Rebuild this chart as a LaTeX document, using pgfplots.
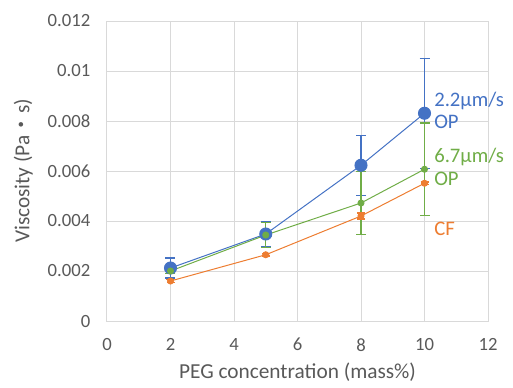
\documentclass[border=0pt]{standalone}
\usepackage{fontspec}
\setmainfont{Carlito}
\newfontfamily\cjk{Noto Sans CJK JP}
\usepackage{pgfplots}
\pgfplotsset{compat=1.18}
\definecolor{cblue}{HTML}{4472C4}
\definecolor{corange}{HTML}{ED7D31}
\definecolor{cgreen}{HTML}{70AD47}
\definecolor{tgray}{HTML}{595959}
\definecolor{ggray}{HTML}{D9D9D9}
\begin{document}
\begin{tikzpicture}
\begin{axis}[
  scale only axis,
  width=285.75pt, height=225pt,
  xmin=0, xmax=12, ymin=0, ymax=0.012,
  xtick={0,2,4,6,8,10,12},
  ytick={0,0.002,0.004,0.006,0.008,0.01,0.012},
  yticklabels={0,0.002,0.004,0.006,0.008,0.01,0.012},
  scaled y ticks=false,
  /pgf/number format/assume math mode=true,
  major tick length=0pt,
  grid=major,
  major grid style={draw=ggray, line width=0.75pt},
  axis line style={draw=ggray, line width=0.75pt},
  tick label style={font=\fontsize{14}{16}\selectfont, text=tgray},
  yticklabel style={xshift=-9pt},
  xticklabel style={yshift=-9.5pt},
  label style={font=\fontsize{16}{18}\selectfont, text=tgray},
  xlabel={PEG concentration (mass\%)},
  ylabel={Viscosity (Pa{\cjk ・}s)},
  xlabel style={at={(rel axis cs:0.5,0)}, anchor=north, yshift=-28pt},
  ylabel style={at={(rel axis cs:-0.22,0.5)}, anchor=center},
  clip=false,
]
\coordinate (SW) at (rel axis cs:0,0);
% 2.2 um/s OP
\addplot[color=cblue, line width=0.75pt, mark=*, mark size=4.5pt,
  error bars/.cd, y dir=both, y explicit,
  error bar style={line width=1.1pt, color=cblue},
  error mark options={rotate=90, mark size=3.75pt, line width=1.1pt, color=cblue}]
  coordinates {
  (2,0.00212) +- (0,0.0004)
  (5,0.00348) +- (0,0.0005)
  (8,0.00623) +- (0,0.0012)
  (10,0.00831) +- (0,0.0022)
  };
% 6.7 um/s OP
\addplot[color=cgreen, line width=0.75pt, mark=*, mark size=2.25pt,
  error bars/.cd, y dir=both, y explicit,
  error bar style={line width=1.1pt, color=cgreen},
  error mark options={rotate=90, mark size=3.75pt, line width=1.1pt, color=cgreen}]
  coordinates {
  (2,0.00200) +- (0,0.0001)
  (5,0.00344) +- (0,0.0005)
  (8,0.00472) +- (0,0.00125)
  (10,0.00607) +- (0,0.00185)
  };
% CF
\addplot[color=corange, line width=0.75pt, mark=*, mark size=2.25pt,
  error bars/.cd, y dir=both, y explicit,
  error bar style={line width=1.1pt, color=corange},
  error mark options={rotate=90, mark size=3pt, line width=1.1pt, color=corange}]
  coordinates {
  (2,0.00160) +- (0,0.00005)
  (5,0.00265) +- (0,0.00005)
  (8,0.00420) +- (0,0.00012)
  (10,0.00551) +- (0,0.00005)
  };
\node[anchor=west, align=left, text=cblue, font=\fontsize{15.5}{17}\selectfont, inner sep=0pt] at (axis cs:10.3,0.00842) {2.2µm/s\\OP};
\node[anchor=west, align=left, text=cgreen, font=\fontsize{15.5}{17}\selectfont, inner sep=0pt] at (axis cs:10.3,0.00616) {6.7µm/s\\OP};
\node[anchor=west, align=left, text=corange, font=\fontsize{15.5}{17}\selectfont, inner sep=0pt] at (axis cs:10.3,0.00368) {CF};
\end{axis}
\pgfresetboundingbox
\path ([shift={(-80.25pt,-49.5pt)}]SW) rectangle ([shift={(304.5pt,240.75pt)}]SW);
\end{tikzpicture}
\end{document}
